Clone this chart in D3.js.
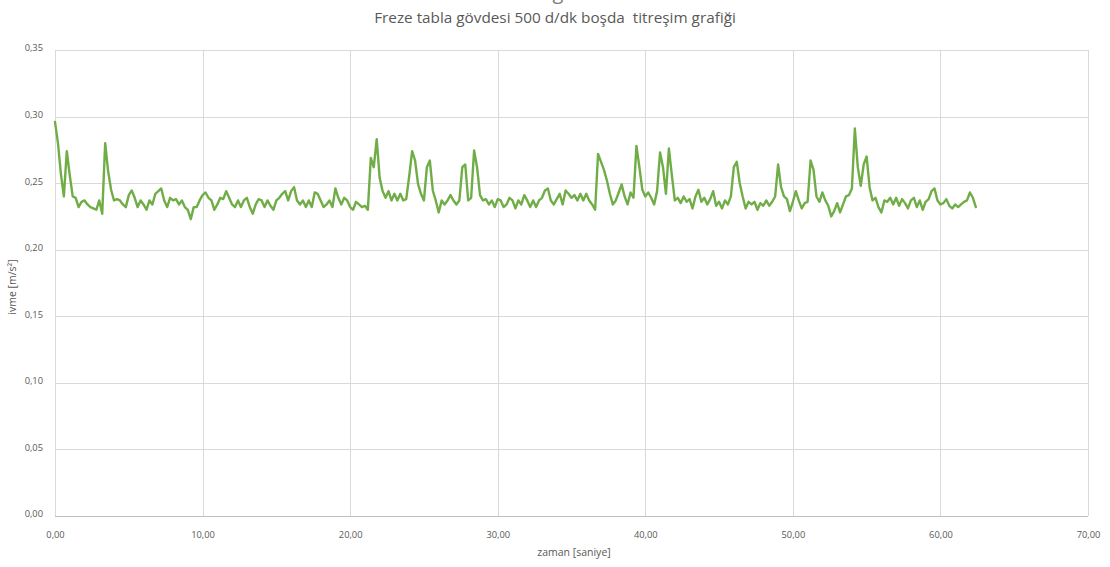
<!DOCTYPE html>
<html>
<head>
<meta charset="utf-8">
<script src="https://cdn.jsdelivr.net/npm/d3@7"></script>
<style>
  html, body { margin: 0; padding: 0; background: #fff; }
  svg { display: block; font-family: "Open Sans", "Noto Sans", sans-serif; }
</style>
</head>
<body>
<svg id="chart" width="1110" height="567"></svg>
<script>
const titleText = "Freze tabla gövdesi 500 d/dk boşda  titreşim grafiği";
const xTitle = "zaman [saniye]";
const yTitle = "ivme [m/s²]";
const xTicks = [0, 10, 20, 30, 40, 50, 60, 70];
const yTicks = [0, 0.05, 0.10, 0.15, 0.20, 0.25, 0.30, 0.35];
const timeStep = 0.2; // s, sampling interval of the measurement

const ivme1 = [0.296,0.280,0.257,0.240,0.274,0.256,0.240,0.239,0.232,0.236,0.237,0.234,0.232,0.231,0.230,0.237,0.227,0.280,0.259,0.245,0.237,0.238,0.237,0.234,0.232,0.241,0.2445,0.239,0.232,0.237,0.234,0.230,0.237,0.234,0.242,0.244,0.246,0.237,0.232,0.239,0.237,0.238,0.234,0.237,0.232,0.230,0.223,0.232,0.232,0.237,0.241,0.243,0.239,0.237,0.230,0.234,0.239,0.238,0.244,0.239,0.234,0.232,0.237];
const ivme2 = [0.232,0.237,0.239,0.232,0.227,0.234,0.238,0.237,0.232,0.237,0.233,0.230,0.237,0.239,0.242,0.244,0.237,0.244,0.247,0.237,0.234,0.237,0.232,0.237,0.232,0.243,0.242,0.237,0.232,0.234,0.237,0.232,0.246,0.239,0.234,0.239,0.237,0.232,0.230,0.236,0.234,0.232,0.233,0.230,0.269,0.262,0.283,0.254,0.244,0.239,0.244,0.237,0.242,0.237,0.242,0.237,0.238,0.255,0.274,0.267];
const ivme3 = [0.2495,0.242,0.237,0.262,0.267,0.2445,0.237,0.228,0.237,0.234,0.237,0.241,0.237,0.234,0.237,0.262,0.264,0.237,0.239,0.2745,0.262,0.241,0.237,0.238,0.234,0.237,0.232,0.238,0.237,0.232,0.234,0.239,0.237,0.231,0.237,0.234,0.241,0.237,0.232,0.237,0.232,0.237,0.239,0.2445,0.246,0.237,0.234,0.238,0.242,0.234,0.2445,0.242,0.239,0.241,0.237,0.242,0.237,0.242,0.237,0.234,0.230,0.272];
const ivme4 = [0.266,0.260,0.252,0.242,0.234,0.237,0.243,0.249,0.240,0.234,0.243,0.239,0.278,0.262,0.245,0.240,0.243,0.239,0.234,0.244,0.273,0.262,0.242,0.276,0.256,0.237,0.239,0.235,0.240,0.236,0.238,0.231,0.240,0.245,0.236,0.239,0.234,0.238,0.244,0.233,0.236,0.231,0.237,0.234,0.240,0.262,0.266,0.250,0.240,0.231,0.236,0.234,0.236,0.230,0.235,0.233,0.237,0.233,0.236,0.240,0.264];
const ivme5 = [0.247,0.240,0.238,0.229,0.236,0.244,0.237,0.231,0.235,0.236,0.267,0.260,0.240,0.236,0.243,0.237,0.233,0.225,0.229,0.235,0.228,0.234,0.240,0.241,0.246,0.291,0.262,0.248,0.264,0.270,0.247,0.237,0.239,0.232,0.228,0.237,0.236,0.239,0.234,0.239,0.233,0.238,0.235,0.231,0.237,0.239,0.232,0.237,0.230,0.236,0.238,0.244,0.246,0.237,0.234,0.235,0.238,0.233,0.231,0.234,0.232,0.234,0.236,0.237,0.243,0.239,0.232];

const ivme = [].concat(ivme1, ivme2, ivme3, ivme4, ivme5);
const data = ivme.map((v, i) => ({ t: +(i * timeStep).toFixed(1), v }));

const fmt = v => v.toFixed(2).replace(".", ",");

const svg = d3.select("#chart");
const margin = { left: 55, right: 22, top: 50, bottom: 51 };
const W = 1110, H = 567;

const x = d3.scaleLinear().domain([0, 70]).range([margin.left, W - margin.right]);
const y = d3.scaleLinear().domain([0, 0.35]).range([H - margin.bottom, margin.top]);

// partial glyph at the very top (cut-off upper title, as in the reference)
svg.append("text").attr("x", 558).attr("y", -1).attr("text-anchor", "middle")
  .attr("font-size", 20).attr("fill", "#7f7f7f").text("g");

// Title
svg.append("text").attr("x", 555).attr("y", 23).attr("text-anchor", "middle")
  .attr("font-size", 15.3).attr("fill", "#595959")
  .style("white-space", "pre").text(titleText);

// Grid - horizontal
svg.append("g").selectAll("line").data(yTicks).join("line")
  .attr("x1", x(0)).attr("x2", x(70))
  .attr("y1", d => Math.round(y(d)) + 0.5).attr("y2", d => Math.round(y(d)) + 0.5)
  .attr("stroke", d => d === 0 ? "#bfbfbf" : "#d9d9d9").attr("stroke-width", 1);

// Grid - vertical
svg.append("g").selectAll("line").data(xTicks).join("line")
  .attr("y1", y(0)).attr("y2", y(0.35))
  .attr("x1", d => Math.round(x(d)) + 0.5).attr("x2", d => Math.round(x(d)) + 0.5)
  .attr("stroke", "#d9d9d9").attr("stroke-width", 1);

// Axis tick labels via d3 axes (no domain/tick lines)
const yAxis = svg.append("g").attr("transform", `translate(${margin.left - 9},0)`)
  .call(d3.axisLeft(y).tickValues(yTicks).tickFormat(fmt).tickSize(0));
yAxis.select(".domain").remove();
yAxis.selectAll("text").attr("fill", "#595959").attr("font-size", 9.3)
  .attr("font-family", "'Open Sans', sans-serif").attr("dy", "0.1em");

const xAxis = svg.append("g").attr("transform", `translate(0,${H - margin.bottom + 12})`)
  .call(d3.axisBottom(x).tickValues(xTicks).tickFormat(fmt).tickSize(0));
xAxis.select(".domain").remove();
xAxis.selectAll("text").attr("fill", "#595959").attr("font-size", 9.3)
  .attr("font-family", "'Open Sans', sans-serif").attr("dy", "0.75em");

// Axis titles
svg.append("text").attr("x", 574).attr("y", 556).attr("text-anchor", "middle")
  .attr("font-size", 10.5).attr("fill", "#595959").text(xTitle);
svg.append("text").attr("transform", "translate(16,287) rotate(-90)")
  .attr("text-anchor", "middle").attr("font-size", 10.5).attr("fill", "#595959").text(yTitle);

// Line
const line = d3.line().x(d => x(d.t)).y(d => y(d.v)).curve(d3.curveLinear);
svg.append("path").datum(data).attr("d", line)
  .attr("fill", "none").attr("stroke", "#70ad47").attr("stroke-width", 2.4)
  .attr("stroke-linejoin", "round").attr("stroke-linecap", "round");
</script>
</body>
</html>
